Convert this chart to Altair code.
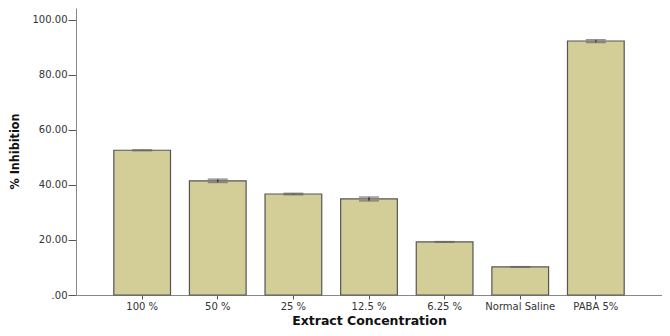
import altair as alt
import pandas as pd

categories = ["100 %", "50 %", "25 %", "12.5 %", "6.25 %", "Normal Saline", "PABA 5%"]
means = [52.6, 41.5, 36.7, 34.9, 19.3, 10.2, 92.3]
errors = [0.15, 0.6, 0.25, 0.7, 0.1, 0.1, 0.5]

df = pd.DataFrame({"cat": categories, "mean": means, "err": errors})
df["lo"] = df["mean"] - df["err"]
df["hi"] = df["mean"] + df["err"]

xenc = alt.X("cat:N", sort=categories, title="Extract Concentration",
             scale=alt.Scale(paddingInner=0.25, paddingOuter=0.5),
             axis=alt.Axis(labelAngle=0, labelFont="DejaVu Sans", labelFontSize=10,
                           labelColor="#333333", tickSize=4, tickColor="#555555",
                           domainColor="#888888", labelPadding=2,
                           titleFont="DejaVu Sans", titleFontSize=12.5, titleFontWeight="bold",
                           titleColor="#111111", titlePadding=3))

yscale = alt.Scale(domain=[0, 104.3], nice=False)

bars = alt.Chart(df).mark_bar(fill="#D3CE98", stroke="#555555", strokeWidth=1.2).encode(
    x=xenc,
    y=alt.Y("mean:Q", scale=yscale, title="% Inhibition",
            axis=alt.Axis(values=[0, 20, 40, 60, 80, 100],
                          labelExpr="datum.value == 0 ? '.00' : format(datum.value, '.2f')",
                          labelFont="DejaVu Sans", labelFontSize=10, labelColor="#333333",
                          tickSize=8, tickColor="#555555", domainColor="#888888",
                          labelPadding=1, grid=False,
                          titleFont="DejaVu Sans Condensed, Liberation Sans Narrow, Liberation Sans, sans-serif",
                          titleFontSize=12.5,
                          titleFontWeight="bold", titleColor="#111111",
                          titleX=-62, titleY=143, titleAngle=-90,
                          titleAlign="center", titleBaseline="middle")),
)

rules = alt.Chart(df).mark_rule(color="#222222", strokeWidth=1.2).encode(
    x=alt.X("cat:N", sort=categories), y="lo:Q", y2="hi:Q"
)
caps_hi = alt.Chart(df).mark_tick(color="#666666", size=20, thickness=1.5).encode(
    x=alt.X("cat:N", sort=categories), y="hi:Q"
)
caps_lo = alt.Chart(df).mark_tick(color="#666666", size=20, thickness=1.5).encode(
    x=alt.X("cat:N", sort=categories), y="lo:Q"
)

chart = alt.layer(bars, rules, caps_hi, caps_lo).properties(
    width=586, height=287,
    background="white",
    autosize=alt.AutoSizeParams(type="none"),
    padding={"left": 68, "top": 0, "right": 0, "bottom": 33},
).configure_view(stroke=None)

chart.save("out.html", embed_options={"renderer": "svg", "actions": False})
